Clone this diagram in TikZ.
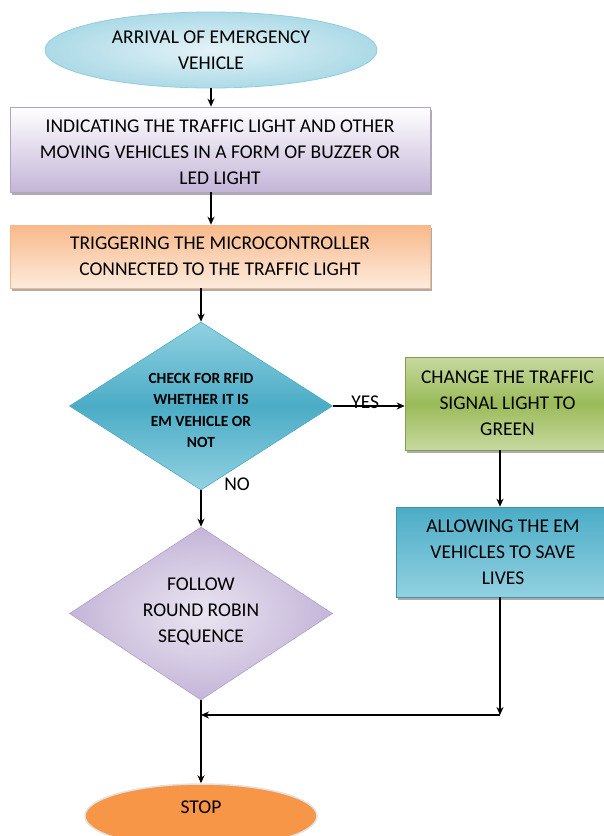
\documentclass[tikz,border=0pt]{standalone}
\usepackage{fontspec}
\setmainfont{Carlito}
\usetikzlibrary{shapes.geometric,shadows,arrows.meta}

\definecolor{skyedge}{HTML}{93CDDF}
\definecolor{skyin}{HTML}{E4F3F7}
\definecolor{skyout}{HTML}{ACDAE7}
\definecolor{lilac}{HTML}{C4B5D8}
\definecolor{lilacedge}{HTML}{B3A2CA}
\definecolor{peach}{HTML}{F8B98A}
\definecolor{peachlight}{HTML}{FDEBDD}
\definecolor{teal}{HTML}{4BACC6}
\definecolor{teallight}{HTML}{92D1E1}
\definecolor{olive}{HTML}{9BBB59}
\definecolor{olivelight}{HTML}{C6D9A0}
\definecolor{stoporange}{HTML}{F79646}

% centred lines of text, taking no room, raised by #1
\newcommand{\lines}[2]{\smash{\raisebox{#1}{\begin{tabular}{@{}c@{}}#2\end{tabular}}}}

\begin{document}
\begin{tikzpicture}
  [x=1pt, y=-1pt, >={Stealth[length=8pt, width=7pt]},
    font=\fontsize{19.5}{26}\selectfont,
    terminal/.style={%
      ellipse, draw, line width=0.8pt, align=center
    },
    process/.style={%
      rectangle, draw, line width=0.6pt, align=center, inner sep=0pt,
      drop shadow={shadow xshift=2pt, shadow yshift=-3pt, fill=black!65}
    },
    decision/.style={%
      diamond, draw, line width=0.6pt, align=center, inner sep=0pt,
      minimum width=263pt
    },
    flow/.style={->, line width=1.2pt},
    tag/.style={font=\fontsize{19.5}{22}\selectfont}
  ]

  \clip (0,0) rectangle (604,836);

  \node[terminal, draw=skyedge, inner color=skyin, outer color=skyout,
        minimum width=332pt, minimum height=76pt] (arrival) at (211,50)
        {ARRIVAL OF EMERGENCY\\VEHICLE};
  \node[process, draw=lilacedge, top color=white, bottom color=lilac,
        minimum width=420pt, minimum height=85pt] (indicate) at (220,149.5)
        {\lines{-9pt}{INDICATING THE TRAFFIC LIGHT AND OTHER\\
        MOVING VEHICLES IN A FORM OF BUZZER OR\\LED LIGHT}};
  \node[process, draw=peach, top color=peach, bottom color=peachlight,
        minimum width=420pt, minimum height=63pt] (trigger) at (220,256.5)
        {TRIGGERING THE MICROCONTROLLER\\CONNECTED TO THE TRAFFIC LIGHT};

  \node[decision, draw=teal, top color=teallight, bottom color=teallight,
        middle color=teal, minimum height=168pt,
        font=\fontsize{15.5}{21.5}\selectfont\bfseries] (check) at (201,406)
        {\lines{-9pt}{CHECK FOR RFID\\WHETHER IT IS\\EM VEHICLE OR\\NOT}};
  \node[process, draw=olive!85!black, top color=olivelight, bottom color=olivelight,
        middle color=olive, minimum width=205pt, minimum height=93pt] (green) at (507.5,403.5)
        {CHANGE THE TRAFFIC\\SIGNAL LIGHT TO\\GREEN};
  \node[process, draw=teal!85!black, top color=teal, bottom color=teallight,
        minimum width=214pt, minimum height=90pt] (allow) at (503,552)
        {ALLOWING THE EM\\VEHICLES TO SAVE\\LIVES};

  \node[decision, draw=lilacedge, inner color=lilac!35, outer color=lilac,
        minimum height=173pt] (robin) at (201,613.5)
        {\lines{-3pt}{FOLLOW\\ROUND ROBIN\\SEQUENCE}};

  \node[terminal, draw=black!12, line width=1.5pt, fill=stoporange,
        minimum width=232pt, minimum height=64pt] (stop) at (201,816)
        {\smash{\raisebox{3pt}{STOP}}};

  \coordinate (rail) at (500,0);
  \coordinate (merge) at (500,715);

  \draw[flow] (arrival.south) -- (indicate.north -| arrival.south);
  \draw[flow] (indicate.south -| arrival.south) -- (trigger.north -| arrival.south);
  \draw[flow] (trigger.south -| check.north) -- (check.north);
  \draw[flow] (check.east) -- (check.east -| green.west)
    node[tag, pos=0.45, above=-7pt] {YES};
  \draw[flow] (check.south) -- (robin.north)
    node[tag, pos=0, xshift=36pt, yshift=6pt] {NO};
  \draw[flow] (green.south -| rail) -- (allow.north -| rail);
  \draw[flow] (allow.south -| rail) -- (merge);
  \draw[flow] (merge) -- (robin.south |- merge);
  \draw[flow] (robin.south) -- (stop.north);

\end{tikzpicture}
\end{document}
